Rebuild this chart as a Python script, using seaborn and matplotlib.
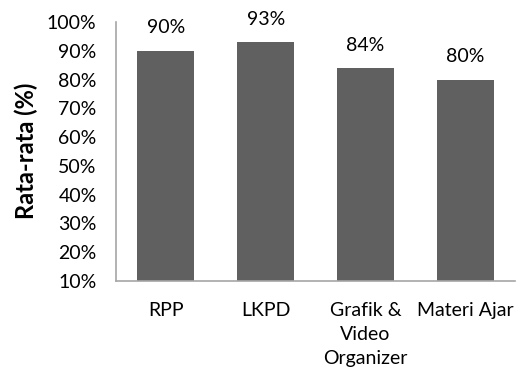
import matplotlib
matplotlib.use("Agg")
import matplotlib.pyplot as plt
import seaborn as sns
import pandas as pd
from matplotlib.ticker import PercentFormatter, MultipleLocator

categories = ["RPP", "LKPD", "Grafik &\nVideo\nOrganizer", "Materi Ajar"]
values = [0.90, 0.93, 0.84, 0.80]
labels = ["90%", "93%", "84%", "80%"]

sns.set_style("white")
plt.rcParams['font.family'] = ['Lato', 'DejaVu Sans']

df = pd.DataFrame({"cat": categories, "val": values})

fig = plt.figure(figsize=(5.23, 3.72), dpi=100)
ax = fig.add_axes([116/523, 1 - 281/372, (515-116)/523, (281-22)/372])

sns.barplot(data=df, x="cat", y="val", color="#606060", saturation=1,
            width=0.57, ax=ax, edgecolor="none")

ax.set_ylim(0.1, 1.0)
ax.set_xlim(-0.5, 3.5)
ax.yaxis.set_major_locator(MultipleLocator(0.1))
ax.yaxis.set_major_formatter(PercentFormatter(1.0, decimals=0))

for i, (v, lab) in enumerate(zip(values, labels)):
    ax.annotate(lab, (i, v), xytext=(0, 12.6), textcoords="offset points",
                ha="center", va="baseline", fontsize=14, color="#000000")

ax.set_xlabel("")
ax.set_ylabel("")
fig.text(26/523, 1 - 150.5/372, "Rata-rata (%)", rotation=90, ha="center",
         va="center", fontsize=17, fontweight="bold", color="#000000")
ax.tick_params(axis="both", length=0, labelsize=14, colors="#000000")
ax.tick_params(axis="y", pad=14)
for t in ax.get_xticklabels():
    t.set_linespacing(1.5)
    t.set_va("top")
ax.tick_params(axis="x", pad=15)
for s in ["top", "right"]:
    ax.spines[s].set_visible(False)
for s in ["left", "bottom"]:
    ax.spines[s].set_color("#a6a6a6")
    ax.spines[s].set_linewidth(1.2)

fig.savefig("out.png", dpi=100)
